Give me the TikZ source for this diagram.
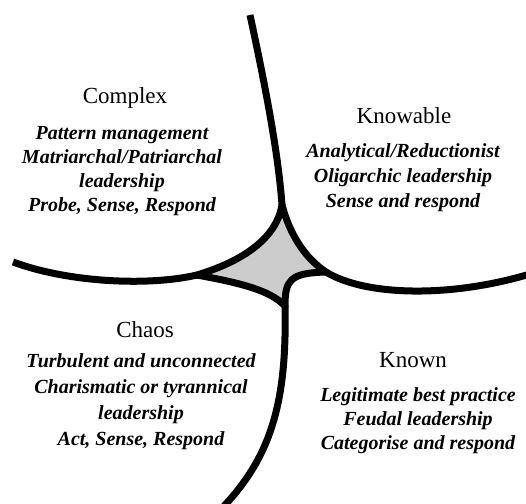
\documentclass[tikz,border=0pt]{standalone}
\usepackage{fontspec}
\setmainfont{Liberation Serif}
\begin{document}
\begin{tikzpicture}[x=1pt,y=-1pt,
  boundary/.style={line width=7pt,draw=black,line join=round},
  titletext/.style={inner sep=0pt,anchor=base,font=\fontsize{23}{25}\selectfont},
  bodytext/.style={inner sep=0pt,anchor=base,font=\fontsize{20}{24}\selectfont\bfseries\itshape}]
\useasboundingbox (0,0) rectangle (526,503);
\begin{scope}
\clip (0,0) rectangle (526,503);
% star vertices
\coordinate (T) at (282,205);
\coordinate (L) at (197,275);
\coordinate (B) at (285,306);
\coordinate (R) at (326,272);
% outer ends
\coordinate (topend) at (250,15);
\coordinate (leftend) at (13,262);
\coordinate (rightend) at (530,274);
\coordinate (bottomend) at (224,506);
% central region
\filldraw[boundary,fill=black!20]
  (T) .. controls (276,240) and (240,262) .. (L)
      .. controls (240,283) and (270,290) .. (B)
      .. controls (285,280) and (290,273) .. (R)
      .. controls (305,258) and (290,235) .. (T) -- cycle;
% boundaries
\draw[boundary] (topend) .. controls (264,80) and (278,150) .. (T);
\draw[boundary] (L) .. controls (150,286) and (70,283) .. (leftend);
\draw[boundary] (R) .. controls (365,296) and (450,298) .. (rightend);
\draw[boundary] (B) .. controls (287,400) and (272,455) .. (bottomend);
\end{scope}
% Complex
\node[titletext] (cxt) at (125,103) {Complex};
\node[bodytext] (cx1) at (122,139) {Pattern management};
\node[bodytext] (cx2) at (122,163) {Matriarchal/Patriarchal};
\node[bodytext] (cx3) at (122,187) {leadership};
\node[bodytext] (cx4) at (122,211) {Probe, Sense, Respond};
% Knowable
\node[titletext] (kbt) at (404,123) {Knowable};
\node[bodytext] (kb1) at (403,157) {Analytical/Reductionist};
\node[bodytext] (kb2) at (403,182) {Oligarchic leadership};
\node[bodytext] (kb3) at (403,207) {Sense and respond};
% Chaos
\node[titletext] (cht) at (145,337) {Chaos};
\node[bodytext] (ch1) at (141,367) {Turbulent and unconnected};
\node[bodytext] (ch2) at (141,393) {Charismatic or tyrannical};
\node[bodytext] (ch3) at (141,419) {leadership};
\node[bodytext] (ch4) at (141,445) {Act, Sense, Respond};
% Known
\node[titletext] (knt) at (413,367) {Known};
\node[bodytext] (kn1) at (418,401) {Legitimate best practice};
\node[bodytext] (kn2) at (418,425) {Feudal leadership};
\node[bodytext] (kn3) at (418,449) {Categorise and respond};
\end{tikzpicture}
\end{document}
